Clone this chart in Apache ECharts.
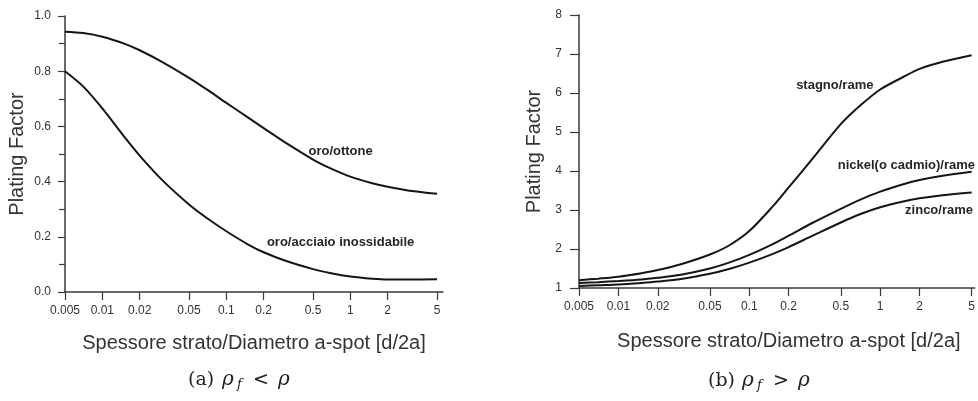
<!DOCTYPE html>
<html>
<head>
<meta charset="utf-8">
<title>Plating Factor</title>
<script src="https://cdn.jsdelivr.net/npm/echarts@6/dist/echarts.min.js"></script>
<style>
  html, body { margin: 0; padding: 0; background: #ffffff; }
  #chart { width: 978px; height: 401px; }
</style>
</head>
<body>
<div id="chart"></div>
<script>
// Layer thickness / a-spot diameter (d/2a) sample points, shared by all curves
const thickness = [0.005, 0.007, 0.01, 0.015, 0.02, 0.03, 0.05, 0.07, 0.1, 0.15, 0.2, 0.3, 0.5, 0.7, 1, 1.5, 2, 3, 5];

// (a) film resistivity lower than substrate
const oroOttone   = [0.943, 0.938, 0.925, 0.900, 0.876, 0.835, 0.776, 0.733, 0.685, 0.632, 0.594, 0.541, 0.480, 0.447, 0.418, 0.394, 0.381, 0.367, 0.356];
const oroAcciaio  = [0.800, 0.745, 0.665, 0.563, 0.494, 0.408, 0.317, 0.267, 0.220, 0.172, 0.144, 0.113, 0.083, 0.068, 0.056, 0.048, 0.045, 0.045, 0.046];

// (b) film resistivity higher than substrate
const stagnoRame  = [1.20, 1.24, 1.29, 1.38, 1.46, 1.61, 1.86, 2.09, 2.46, 3.08, 3.58, 4.29, 5.20, 5.67, 6.09, 6.41, 6.62, 6.80, 6.97];
const nickelRame  = [1.13, 1.15, 1.18, 1.22, 1.26, 1.34, 1.50, 1.65, 1.85, 2.12, 2.34, 2.66, 3.03, 3.26, 3.47, 3.66, 3.77, 3.88, 3.98];
const zincoRame   = [1.05, 1.07, 1.09, 1.13, 1.165, 1.23, 1.365, 1.485, 1.65, 1.87, 2.05, 2.33, 2.68, 2.89, 3.07, 3.22, 3.30, 3.38, 3.45];

// Axis ticks
const xTicks      = [0.005, 0.01, 0.02, 0.05, 0.1, 0.2, 0.5, 1, 2, 5];
const xTickLabels = ['0.005', '0.01', '0.02', '0.05', '0.1', '0.2', '0.5', '1', '2', '5'];

// Curve names and where their labels sit, in data units [d/2a, plating factor]
const curveNames = ['oro/ottone', 'oro/acciaio inossidabile', 'stagno/rame', 'nickel(o cadmio)/rame', 'zinco/rame'];
const labelAnchors = [
  { at: [0.834, 0.511], align: 'center' },
  { at: [0.834, 0.178], align: 'center' },
  { at: [0.45, 6.205], align: 'center' },
  { at: [0.474, 4.15], align: 'left' },
  { at: [1.55, 3.0], align: 'left' }
];

const log10 = Math.log10;
const tickPos = xTicks.map(log10);
const tickText = v => {
  const i = tickPos.findIndex(p => Math.abs(p - v) < 1e-6);
  return i >= 0 ? xTickLabels[i] : '';
};

const AXIS_COLOR = '#3a3a3a';
const TEXT_COLOR = '#333333';
const LINE_COLOR = '#151515';
const SANS = "'Liberation Sans', Arial, sans-serif";
const SERIF = "'DejaVu Serif', 'Liberation Serif', serif";

function makeXAxis(gridIndex, decades, nameGap, namePadding) {
  return {
    type: 'value',
    gridIndex,
    min: log10(xTicks[0]),
    max: log10(xTicks[0]) + decades,
    name: 'Spessore strato/Diametro a-spot [d/2a]',
    nameLocation: 'middle',
    nameGap,
    nameTextStyle: { fontFamily: SANS, fontSize: 20, color: TEXT_COLOR, padding: namePadding },
    axisLine: { show: true, onZero: false, lineStyle: { color: AXIS_COLOR, width: 1.5 } },
    axisTick: { show: true, customValues: tickPos, length: 8, lineStyle: { color: AXIS_COLOR, width: 1.2 } },
    axisLabel: {
      customValues: tickPos, formatter: tickText, margin: 13,
      fontFamily: SANS, fontSize: 12, color: TEXT_COLOR
    },
    splitLine: { show: false }
  };
}

function makeYAxis(gridIndex, min, max, interval, nameGap, tickLen, labelMargin, minor, digits) {
  return {
    type: 'value', gridIndex, min, max, interval,
    name: 'Plating Factor', nameLocation: 'middle', nameGap,
    nameTextStyle: { fontFamily: SANS, fontSize: 20, color: TEXT_COLOR },
    axisLine: { show: true, onZero: false, lineStyle: { color: AXIS_COLOR, width: 1.5 } },
    axisTick: { show: true, length: tickLen, lineStyle: { color: AXIS_COLOR, width: 1.2 } },
    minorTick: { show: minor, splitNumber: 2, length: tickLen - 1, lineStyle: { color: AXIS_COLOR, width: 1.2 } },
    axisLabel: { margin: labelMargin, formatter: v => v.toFixed(digits), fontFamily: SANS, fontSize: 12, color: TEXT_COLOR },
    splitLine: { show: false }
  };
}

function makeSeries(name, ys, xi, yi, anchor) {
  return {
    name,
    type: 'line',
    xAxisIndex: xi,
    yAxisIndex: yi,
    data: thickness.map((x, i) => [log10(x), ys[i]]),
    smooth: 0.3,
    showSymbol: false,
    symbol: 'none',
    lineStyle: { color: LINE_COLOR, width: 2 },
    itemStyle: { color: LINE_COLOR },
    silent: true,
    animation: false,
    markPoint: {
      symbol: 'circle',
      symbolSize: 0,
      silent: true,
      data: [{
        coord: [log10(anchor.at[0]), anchor.at[1]],
        label: {
          show: true,
          formatter: name,
          position: anchor.align === 'left' ? 'right' : 'inside',
          distance: 0,
          fontFamily: SANS,
          fontSize: 13,
          fontWeight: 'bold',
          color: '#262626'
        }
      }]
    }
  };
}

// Panel captions: "(a) ρ_f < ρ" and "(b) ρ_f > ρ"
const captionRich = {
  n: { fontFamily: SERIF, fontSize: 19, fill: '#222', width: 34 },
  r: { fontFamily: SERIF, fontSize: 20, fontStyle: 'italic', fill: '#222', width: 15 },
  s: { fontFamily: SERIF, fontSize: 13, fontStyle: 'italic', fill: '#222', width: 16, padding: [9, 0, 0, 0] },
  o: { fontFamily: SERIF, fontSize: 19, fill: '#222', width: 25 },
  e: { fontFamily: SERIF, fontSize: 20, fontStyle: 'italic', fill: '#222' }
};

const chart = echarts.init(document.getElementById('chart'), null, { renderer: 'canvas' });

chart.setOption({
  backgroundColor: '#ffffff',
  animation: false,
  grid: [
    { left: 65, top: 16, width: 378, height: 276, containLabel: false },
    { left: 579, top: 15, right: 0, height: 273, containLabel: false }
  ],
  xAxis: [
    makeXAxis(0, 3.048, 41, [0, 0, 0, 0]),
    makeXAxis(1, 399 / 132, 43, [0, 0, 0, 24])
  ],
  yAxis: [
    makeYAxis(0, 0, 1, 0.2, 38, 7, 14, true, 1),
    makeYAxis(1, 1, 8, 1, 35, 9, 17, false, 0)
  ],
  series: [
    makeSeries(curveNames[0], oroOttone, 0, 0, labelAnchors[0]),
    makeSeries(curveNames[1], oroAcciaio, 0, 0, labelAnchors[1]),
    makeSeries(curveNames[2], stagnoRame, 1, 1, labelAnchors[2]),
    makeSeries(curveNames[3], nickelRame, 1, 1, labelAnchors[3]),
    makeSeries(curveNames[4], zincoRame, 1, 1, labelAnchors[4])
  ],
  graphic: [
    {
      type: 'text', left: 188, top: 370, silent: true,
      style: { text: '{n|(a)}{r|ρ}{s|f}{o|<}{e|ρ}', rich: captionRich }
    },
    {
      type: 'text', left: 708, top: 371, silent: true,
      style: { text: '{n|(b)}{r|ρ}{s|f}{o|>}{e|ρ}', rich: captionRich }
    }
  ]
});
</script>
</body>
</html>
